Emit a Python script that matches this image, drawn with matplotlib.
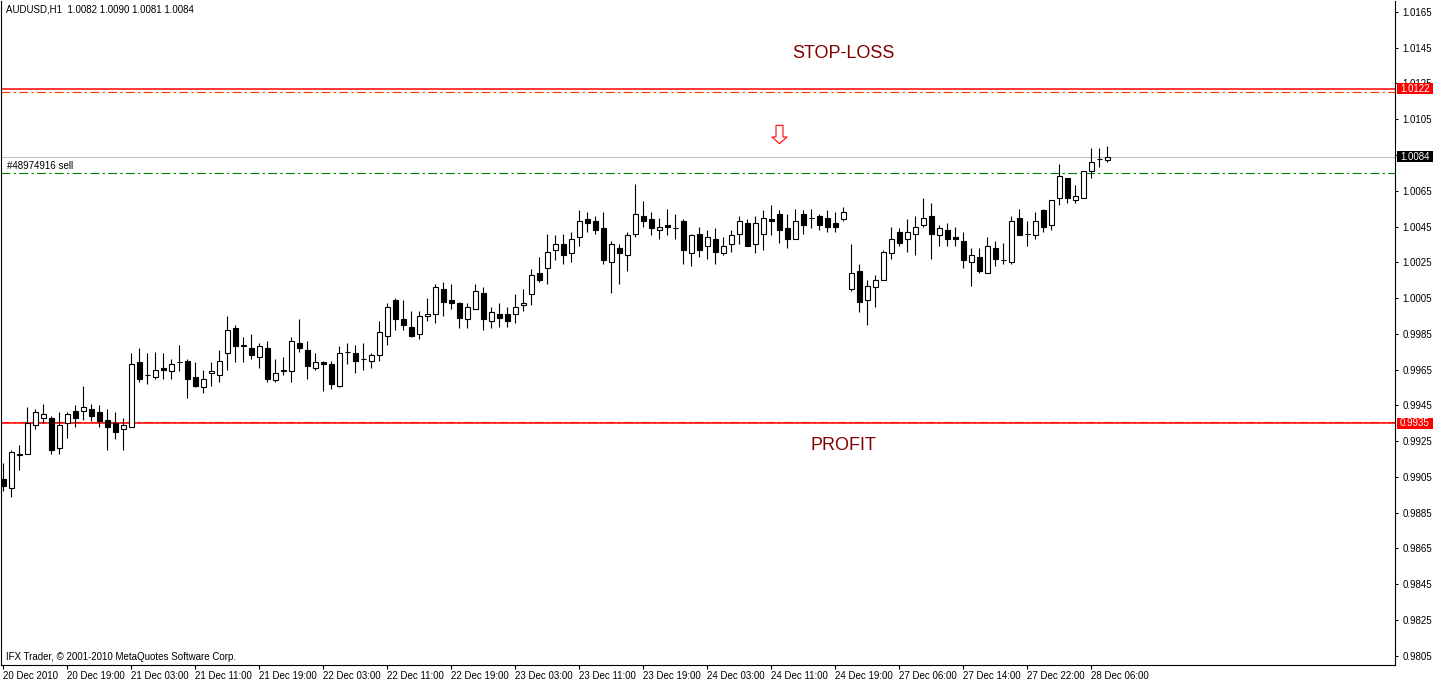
"""
AUDUSD H1 candlestick chart, MetaTrader style, with stop-loss / profit levels.
"""

import numpy as np
import matplotlib
matplotlib.use("Agg")
import matplotlib.pyplot as plt
import matplotlib.transforms as mtransforms
from matplotlib.patches import Rectangle
from matplotlib.path import Path


# Header and footer texts
header_text = "AUDUSD,H1  1.0082 1.0090 1.0081 1.0084"
footer_text = "IFX Trader, \u00a9 2001-2010 MetaQuotes Software Corp."
order_text = "#48974916 sell"

# OHLC of the hourly bars (20 Dec 11:00 .. 28 Dec 08:00)
opens = [
    0.9904, 0.9899, 0.9918, 0.9918, 0.9934, 0.9938, 0.9938, 0.9921, 0.9935, 0.9942,
    0.9942, 0.9943, 0.9941, 0.9937, 0.9935, 0.9932, 0.9933, 0.9969, 0.9962, 0.9961,
    0.9966, 0.9964, 0.9969, 0.9970, 0.9961, 0.9955, 0.9963, 0.9962, 0.9974, 0.9988,
    0.9979, 0.9977, 0.9972, 0.9977, 0.9959, 0.9964, 0.9964, 0.9980, 0.9976, 0.9966,
    0.9969, 0.9968, 0.9956, 0.9975, 0.9974, 0.9971, 0.9970, 0.9973, 0.9984, 1.0004,
    0.9993, 0.9989, 0.9985, 0.9995, 0.9996, 1.0010, 1.0004, 1.0002, 0.9993, 0.9999,
    1.0008, 0.9992, 0.9996, 0.9996, 0.9996, 1.0001, 1.0007, 1.0019, 1.0022, 1.0032,
    1.0035, 1.0030, 1.0039, 1.0049, 1.0048, 1.0044, 1.0025, 1.0033, 1.0029, 1.0041,
    1.0051, 1.0049, 1.0043, 1.0046, 1.0044, 1.0048, 1.0030, 1.0041, 1.0034, 1.0038,
    1.0030, 1.0035, 1.0041, 1.0047, 1.0035, 1.0041, 1.0049, 1.0052, 1.0044, 1.0038,
    1.0052, 1.0050, 1.0051, 1.0050, 1.0047, 1.0049, 1.0010, 1.0020, 1.0004, 1.0011,
    1.0015, 1.0030, 1.0042, 1.0038, 1.0041, 1.0046, 1.0051, 1.0040, 1.0043, 1.0039,
    1.0037, 1.0025, 1.0028, 1.0019, 1.0033, 1.0026, 1.0025, 1.0050, 1.0041, 1.0040,
    1.0054, 1.0046, 1.0061, 1.0072, 1.0060, 1.0061, 1.0076, 1.0083, 1.0082,
]
highs = [
    0.9913, 0.9920, 0.9923, 0.9944, 0.9943, 0.9946, 0.9939, 0.9941, 0.9941, 0.9945,
    0.9956, 0.9946, 0.9945, 0.9943, 0.9941, 0.9938, 0.9974, 0.9977, 0.9974, 0.9975,
    0.9974, 0.9971, 0.9979, 0.9971, 0.9969, 0.9965, 0.9969, 0.9976, 0.9995, 0.9990,
    0.9983, 0.9985, 0.9980, 0.9981, 0.9971, 0.9972, 0.9983, 0.9993, 0.9981, 0.9974,
    0.9970, 0.9970, 0.9978, 0.9980, 0.9979, 0.9980, 0.9974, 0.9992, 1.0002, 1.0005,
    1.0004, 0.9998, 0.9998, 1.0005, 1.0013, 1.0014, 1.0013, 1.0003, 1.0002, 1.0013,
    1.0011, 1.0000, 1.0002, 1.0000, 1.0007, 1.0010, 1.0021, 1.0028, 1.0041, 1.0040,
    1.0041, 1.0042, 1.0054, 1.0053, 1.0051, 1.0053, 1.0037, 1.0035, 1.0042, 1.0069,
    1.0059, 1.0053, 1.0050, 1.0055, 1.0052, 1.0049, 1.0041, 1.0045, 1.0043, 1.0044,
    1.0039, 1.0043, 1.0051, 1.0049, 1.0051, 1.0054, 1.0057, 1.0054, 1.0052, 1.0055,
    1.0054, 1.0055, 1.0052, 1.0054, 1.0053, 1.0056, 1.0035, 1.0024, 1.0015, 1.0018,
    1.0032, 1.0045, 1.0044, 1.0049, 1.0051, 1.0061, 1.0058, 1.0046, 1.0047, 1.0045,
    1.0042, 1.0033, 1.0033, 1.0039, 1.0037, 1.0036, 1.0051, 1.0055, 1.0048, 1.0053,
    1.0055, 1.0060, 1.0080, 1.0072, 1.0068, 1.0076, 1.0089, 1.0089, 1.0090,
]
lows = [
    0.9897, 0.9894, 0.9909, 0.9918, 0.9932, 0.9935, 0.9918, 0.9918, 0.9927, 0.9933,
    0.9937, 0.9936, 0.9933, 0.9920, 0.9926, 0.9920, 0.9933, 0.9958, 0.9957, 0.9960,
    0.9960, 0.9960, 0.9964, 0.9949, 0.9955, 0.9952, 0.9956, 0.9958, 0.9965, 0.9969,
    0.9969, 0.9971, 0.9966, 0.9958, 0.9958, 0.9962, 0.9958, 0.9975, 0.9960, 0.9965,
    0.9953, 0.9954, 0.9955, 0.9968, 0.9963, 0.9965, 0.9966, 0.9970, 0.9979, 0.9987,
    0.9987, 0.9983, 0.9982, 0.9992, 0.9991, 0.9995, 0.9999, 0.9988, 0.9988, 0.9999,
    0.9987, 0.9988, 0.9989, 0.9989, 0.9991, 0.9998, 1.0001, 1.0014, 1.0013, 1.0026,
    1.0024, 1.0025, 1.0034, 1.0042, 1.0041, 1.0024, 1.0008, 1.0013, 1.0020, 1.0039,
    1.0045, 1.0040, 1.0038, 1.0040, 1.0038, 1.0024, 1.0023, 1.0028, 1.0027, 1.0024,
    1.0029, 1.0031, 1.0035, 1.0034, 1.0030, 1.0032, 1.0040, 1.0036, 1.0033, 1.0038,
    1.0041, 1.0044, 1.0043, 1.0042, 1.0042, 1.0048, 1.0009, 0.9997, 0.9990, 1.0000,
    1.0015, 1.0027, 1.0034, 1.0031, 1.0029, 1.0045, 1.0027, 1.0034, 1.0034, 1.0034,
    1.0022, 1.0012, 1.0019, 1.0019, 1.0023, 1.0024, 1.0024, 1.0040, 1.0034, 1.0038,
    1.0042, 1.0043, 1.0057, 1.0058, 1.0058, 1.0061, 1.0072, 1.0078, 1.0081,
]
closes = [
    0.9900, 0.9919, 0.9917, 0.9935, 0.9941, 0.9940, 0.9920, 0.9934, 0.9940, 0.9938,
    0.9944, 0.9939, 0.9936, 0.9933, 0.9930, 0.9934, 0.9968, 0.9960, 0.9962, 0.9965,
    0.9965, 0.9968, 0.9969, 0.9960, 0.9956, 0.9960, 0.9964, 0.9970, 0.9987, 0.9978,
    0.9978, 0.9973, 0.9978, 0.9960, 0.9963, 0.9965, 0.9981, 0.9977, 0.9967, 0.9969,
    0.9968, 0.9957, 0.9974, 0.9975, 0.9970, 0.9971, 0.9973, 0.9986, 1.0000, 0.9993,
    0.9990, 0.9984, 0.9995, 0.9996, 1.0011, 1.0003, 1.0002, 0.9994, 1.0000, 1.0009,
    0.9993, 0.9997, 0.9994, 0.9992, 1.0000, 1.0002, 1.0018, 1.0015, 1.0031, 1.0035,
    1.0029, 1.0038, 1.0048, 1.0047, 1.0043, 1.0026, 1.0035, 1.0030, 1.0040, 1.0052,
    1.0048, 1.0044, 1.0045, 1.0045, 1.0044, 1.0032, 1.0040, 1.0032, 1.0039, 1.0031,
    1.0034, 1.0040, 1.0048, 1.0034, 1.0047, 1.0050, 1.0048, 1.0043, 1.0038, 1.0048,
    1.0046, 1.0050, 1.0046, 1.0045, 1.0045, 1.0053, 1.0019, 1.0003, 1.0012, 1.0015,
    1.0031, 1.0038, 1.0036, 1.0042, 1.0045, 1.0050, 1.0041, 1.0044, 1.0038, 1.0038,
    1.0026, 1.0029, 1.0020, 1.0034, 1.0027, 1.0026, 1.0048, 1.0040, 1.0041, 1.0048,
    1.0045, 1.0060, 1.0073, 1.0061, 1.0062, 1.0076, 1.0081, 1.0083, 1.0084,
]

# Time axis labels, one every 8 bars
time_labels = [
    "20 Dec 2010", "20 Dec 19:00", "21 Dec 03:00", "21 Dec 11:00", "21 Dec 19:00",
    "22 Dec 03:00", "22 Dec 11:00", "22 Dec 19:00", "23 Dec 03:00", "23 Dec 11:00",
    "23 Dec 19:00", "24 Dec 03:00", "24 Dec 11:00", "24 Dec 19:00", "27 Dec 06:00",
    "27 Dec 14:00", "27 Dec 22:00", "28 Dec 06:00",
]
label_step = 8

# Price scale
price_ticks = [round(0.9805 + 0.0020 * k, 4) for k in range(19)]

# Order / object levels
stop_loss_line = 1.0122
stop_loss_order = 1.0120
profit_line = 0.9935
profit_order = 0.99355
entry_price = 1.0075
bid_price = 1.0084
arrow_bar = 97
arrow_price = 1.0097


def main():
    o = np.array(opens)
    h = np.array(highs)
    l = np.array(lows)
    c = np.array(closes)
    x = np.arange(len(o))

    fig = plt.figure(figsize=(14.34, 6.82), dpi=100)
    fig.patch.set_facecolor("white")
    ax = fig.add_axes([1 / 1434, 17 / 682, 1394 / 1434, 664 / 682])
    ax.set_xlim(-0.29, 173.97)
    ax.set_ylim(0.97998, 1.01711)

    small = dict(family="Liberation Sans", fontsize=7)

    # level lines
    ax.axhline(stop_loss_line, color="#ff0000", lw=1.1, zorder=1)
    ax.axhline(stop_loss_order, color="#ff3300", lw=0.8, ls=(0, (8, 3, 2, 3)), zorder=1)
    ax.axhline(profit_order, color="#ff3300", lw=0.8, ls=(0, (8, 3, 2, 3)), zorder=1)
    ax.axhline(profit_line, color="#ff0000", lw=1.1, zorder=1)
    ax.axhline(bid_price, color="#c0c0c0", lw=0.8, zorder=1)
    ax.axhline(entry_price, color="#008000", lw=0.8, ls=(0, (8, 3, 2, 3)), zorder=1)

    # candles
    ax.vlines(x, l, h, color="black", lw=0.8, zorder=2)
    up = c >= o
    body = np.abs(c - o)
    ax.bar(x[up], body[up], bottom=o[up], width=0.6, facecolor="white",
           edgecolor="black", lw=0.8, zorder=3)
    ax.bar(x[~up], body[~up], bottom=c[~up], width=0.6, facecolor="black",
           edgecolor="black", lw=0.8, zorder=3)

    # sell arrow
    verts = [(-3.5, 9.2), (3.5, 9.2), (3.5, -2.5), (7.5, -2.5), (0, -9.2),
             (-7.5, -2.5), (-3.5, -2.5), (-3.5, 9.2)]
    codes = [Path.MOVETO] + [Path.LINETO] * 6 + [Path.CLOSEPOLY]
    ax.plot([arrow_bar], [arrow_price], marker=Path(verts, codes), ms=13.2,
            mfc="white", mec="red", mew=0.8, ls="none", zorder=4)

    # labels on the chart
    ax.text(105, 1.01417, "STOP-LOSS", color="#800000", family="Liberation Sans",
            fontsize=13, ha="center", va="center")
    ax.text(105, 0.99228, "PROFIT", color="#800000", family="Liberation Sans",
            fontsize=13, ha="center", va="center")

    blend = mtransforms.blended_transform_factory(ax.transAxes, ax.transData)
    ax.text(0.0045, entry_price + 0.0001, order_text, transform=blend,
            ha="left", va="bottom", color="black", **small)

    fig.text(6 / 1434, 1 - 10 / 682, header_text, ha="left", va="center", **small)
    fig.text(6 / 1434, 1 - 657 / 682, footer_text, ha="left", va="center", **small)

    # price axis on the right
    ax.yaxis.tick_right()
    ax.set_yticks(price_ticks)
    ax.set_yticklabels([f"{p:.4f}" for p in price_ticks])
    ax.tick_params(axis="y", length=2.5, width=0.8, pad=3, labelsize=7)
    for lab in ax.get_yticklabels():
        lab.set_family("Liberation Sans")

    # price boxes on the scale (cover the tick labels behind them)
    half_h = 5.5 / 17917
    box_w = 36 / 1394
    for price, bg in [(stop_loss_line, "#ff0000"), (profit_line, "#ff0000"), (bid_price, "black")]:
        ax.add_patch(Rectangle((1.0012, price - half_h), box_w, 2 * half_h,
                               transform=blend, facecolor=bg, edgecolor="none",
                               clip_on=False, zorder=5))
        ax.text(1.0012 + box_w / 2, price, f"{price:.4f}", transform=blend, color="white",
                ha="center", va="center", clip_on=False, zorder=6, **small)

    # time axis
    ax.set_xticks(x[::label_step][:len(time_labels)])
    ax.set_xticklabels(time_labels)
    ax.tick_params(axis="x", length=3, width=0.8, pad=1.5, labelsize=7)
    for lab in ax.get_xticklabels():
        lab.set_family("Liberation Sans")
        lab.set_horizontalalignment("left")

    for side in ["left", "bottom", "right"]:
        ax.spines[side].set_linewidth(0.8)
        ax.spines[side].set_color("black")
    ax.spines["top"].set_visible(False)

    fig.savefig("out.png", dpi=100, facecolor="white")
    plt.close(fig)


if __name__ == "__main__":
    main()
